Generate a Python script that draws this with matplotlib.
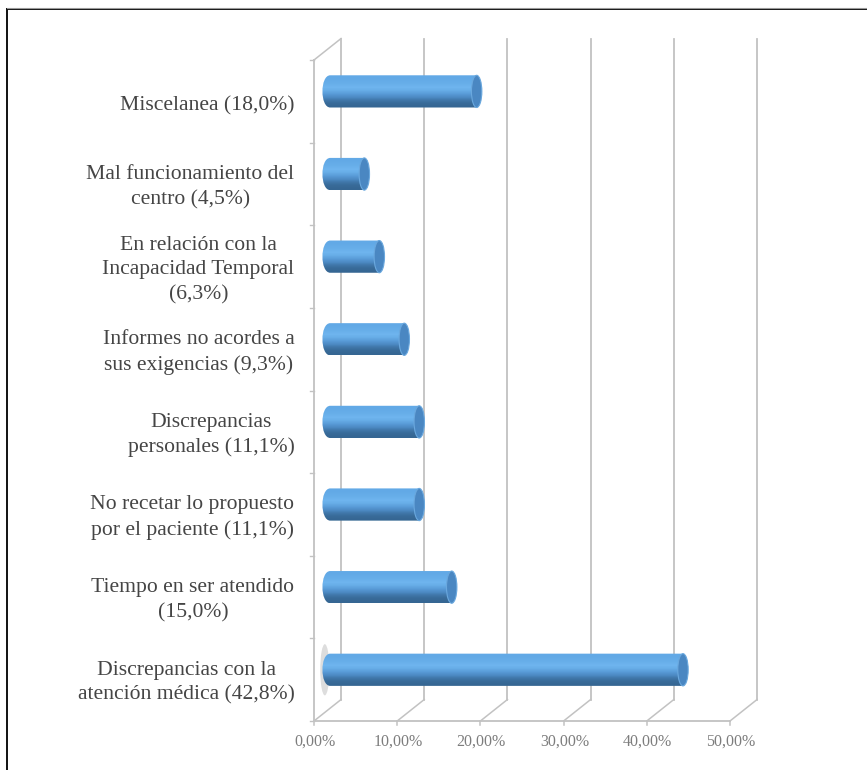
import numpy as np
import matplotlib
matplotlib.use("Agg")
import matplotlib.pyplot as plt
from matplotlib.path import Path
from matplotlib.patches import PathPatch, Ellipse

plt.rcParams['font.family'] = ['Liberation Serif', 'DejaVu Serif']

W, H = 867, 770

# Values, bottom category first
labels = [
    "Discrepancias con la\natención médica (42,8%)",
    "Tiempo en ser atendido\n(15,0%)",
    "No recetar lo propuesto\npor el paciente (11,1%)",
    "Discrepancias\npersonales (11,1%)",
    "Informes no acordes a\nsus exigencias (9,3%)",
    "En relación con la\nIncapacidad Temporal\n(6,3%)",
    "Mal funcionamiento del\ncentro (4,5%)",
    "Miscelanea (18,0%)",
]
values = [42.8, 15.0, 11.1, 11.1, 9.3, 6.3, 4.5, 18.0]
xticks = [0, 10, 20, 30, 40, 50]
xticklabels = ["0,00%", "10,00%", "20,00%", "30,00%", "40,00%", "50,00%"]

fig = plt.figure(figsize=(W / 100, H / 100), dpi=100)
ax = fig.add_axes([314 / W, 1 - 721 / H, 416 / W, 661 / H])
ax.set_xlim(0, 50)
ax.set_ylim(0, len(values))
ax.axis("off")

# fake 3d depth, in data units
depth_x = 3.25
depth_y = 0.26
grid_col = "#c2c2c2"

# back wall lines and floor
for t in xticks:
    ax.plot([t + depth_x] * 2, [depth_y, len(values) + depth_y], color=grid_col, lw=1.3, clip_on=False)
    ax.plot([t, t + depth_x], [0, depth_y], color=grid_col, lw=1.1, clip_on=False)
    ax.plot([t, t], [0, -0.05], color=grid_col, lw=1.1, clip_on=False)
ax.plot([0, 50], [0, 0], color=grid_col, lw=1.3, clip_on=False)
ax.plot([0, 0], [0, len(values)], color=grid_col, lw=1.3, clip_on=False)
ax.plot([0, depth_x], [len(values), len(values) + depth_y], color=grid_col, lw=1.1, clip_on=False)
for k in range(len(values) + 1):
    ax.plot([-0.5, 0], [k, k], color=grid_col, lw=1.0, clip_on=False)

# smudge left of the lowest bar
ax.add_patch(Ellipse((1.3, 0.62), 1.1, 0.62, fc="#dddddd", ec="none", zorder=2))

# cylinders
gradient = np.array([0.0, 0.08, 0.3, 0.55, 0.8, 0.95, 1.0]).reshape(-1, 1)
cmap = matplotlib.colors.LinearSegmentedColormap.from_list(
    "cyl", ["#62a9e6", "#68afea", "#6fb5ef", "#66ace6", "#5a9cd9", "#4c89c2", "#356692"])
bar_h = 0.39
cap = 1.25
off_x = 1.55
off_y = 0.12
for i, v in enumerate(values):
    x0 = off_x + 0.4
    x1 = off_x + v
    yc = i + 0.5 + off_y
    y0, y1 = yc - bar_h / 2, yc + bar_h / 2
    verts = [(x0, y0), (x1, y0), (x1, y1), (x0, y1),
             (x0 - cap, y1), (x0 - cap, y0), (x0, y0)]
    codes = [Path.MOVETO, Path.LINETO, Path.LINETO, Path.LINETO,
             Path.CURVE4, Path.CURVE4, Path.CURVE4]
    body = PathPatch(Path(verts, codes), fc="none", ec="none", transform=ax.transData)
    ax.add_patch(body)
    im = ax.imshow(gradient, extent=[x0 - cap, x1, y0, y1], cmap=cmap, aspect="auto",
                   origin="upper", zorder=3, interpolation="bicubic")
    im.set_clip_path(body)
    ax.add_patch(Ellipse((x1, yc), 1.25, bar_h, fc="#4a87c2", ec="#6aa8de", lw=0.8, zorder=4))
    label_y = i + 0.5 - (0.06 if "\n" not in labels[i] else 0.04)
    ax.text(-2.35, label_y, labels[i], ha="right", va="center", multialignment="center",
            fontsize=15.6, color="#454545", linespacing=1.4, clip_on=False)

ax.set_xlim(0, 50)
ax.set_ylim(0, len(values))

for t, s in zip(xticks, xticklabels):
    ax.text(t + 0.1, -0.25, s, ha="center", va="center", fontsize=11.5, color="#7d7d7d",
            clip_on=False)

# black frame of the scanned figure
fig.add_artist(plt.Line2D([7 / W, 7 / W], [0, 1 - 9 / H], color="#111111", lw=1.4))
fig.add_artist(plt.Line2D([7 / W, 1], [1 - 9 / H, 1 - 9 / H], color="#111111", lw=1.4))
fig.add_artist(plt.Line2D([7 / W, 1], [1 - 8 / H, 1 - 8 / H], color="#999999", lw=0.8))

fig.savefig("out.png", dpi=100)
